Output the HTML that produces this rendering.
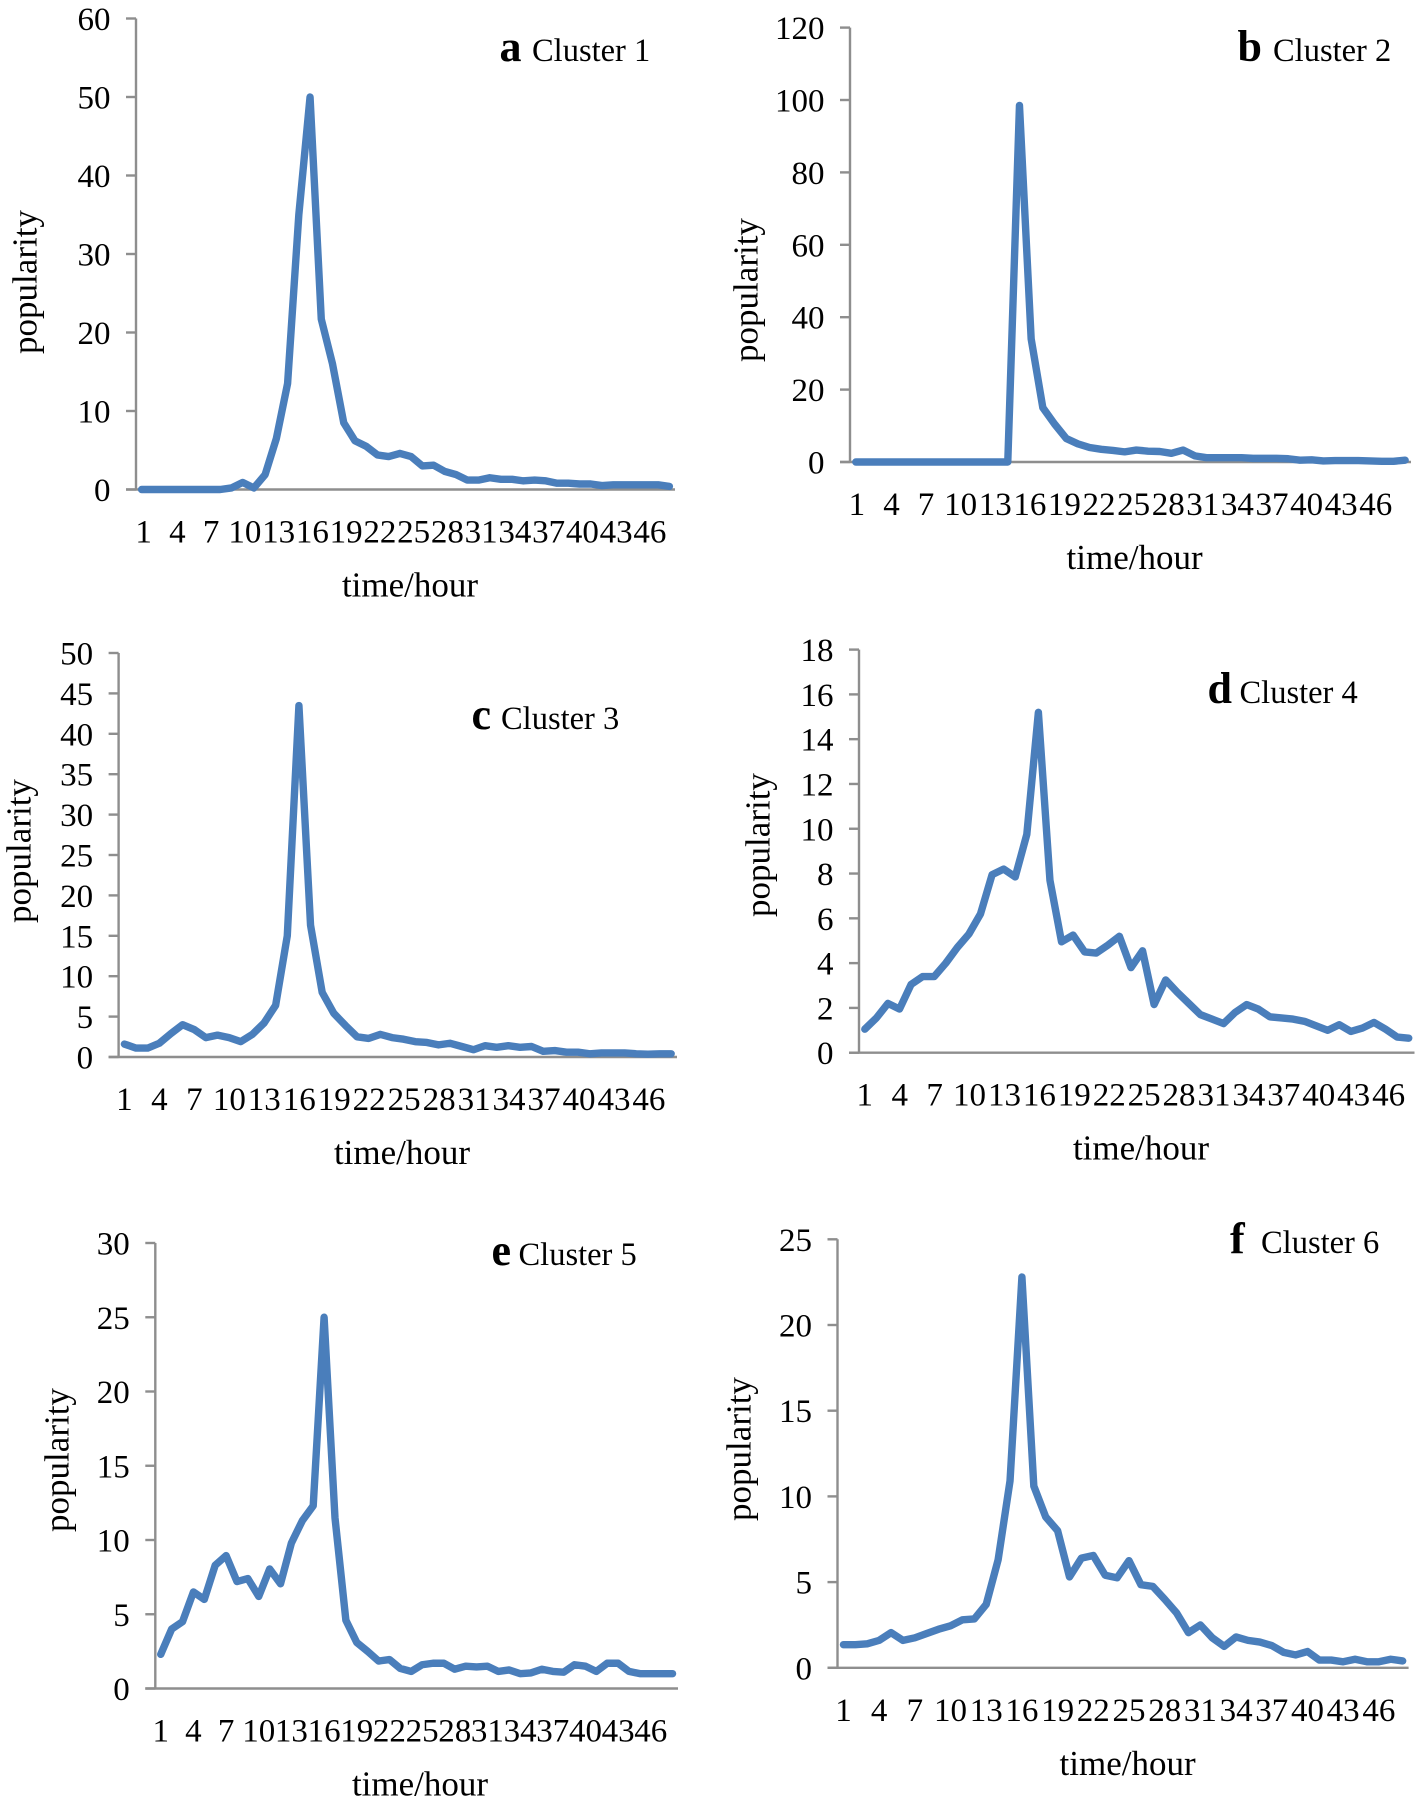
<!DOCTYPE html>
<html lang="en">
<head>
<meta charset="utf-8">
<title>Cluster popularity over time</title>
<style>
html,body{margin:0;padding:0;background:#fff;width:1419px;height:1807px;overflow:hidden}
svg{display:block}
text{font-family:"Liberation Serif","Times New Roman",serif;fill:#000}
</style>
</head>
<body>
<svg id="figure" xmlns="http://www.w3.org/2000/svg" width="1419" height="1807" viewBox="0 0 1419 1807"></svg>
<script>
const hourCategories = [1,2,3,4,5,6,7,8,9,10,11,12,13,14,15,16,17,18,19,20,21,22,23,24,25,26,27,28,29,30,31,32,33,34,35,36,37,38,39,40,41,42,43,44,45,46,47,48];
const xTickLabels = [1,4,7,10,13,16,19,22,25,28,31,34,37,40,43,46];

const yTicksA = [0,10,20,30,40,50,60];
const yTicksB = [0,20,40,60,80,100,120];
const yTicksC = [0,5,10,15,20,25,30,35,40,45,50];
const yTicksD = [0,2,4,6,8,10,12,14,16,18];
const yTicksE = [0,5,10,15,20,25,30];
const yTicksF = [0,5,10,15,20,25];

const seriesA = [0,0,0,0,0,0,0,0,0.2,0.9,0.2,1.9,6.5,13.5,35,50,21.7,16,8.5,6.2,5.5,4.4,4.2,4.6,4.2,3,3.1,2.3,1.9,1.2,1.2,1.5,1.3,1.3,1.1,1.2,1.1,0.8,0.8,0.7,0.7,0.5,0.6,0.6,0.6,0.6,0.6,0.4];
const seriesB = [0,0,0,0,0,0,0,0,0,0,0,0,0,0,98.5,34,15,10.5,6.5,5,4,3.5,3.2,2.8,3.3,3,2.9,2.4,3.3,1.7,1.2,1.2,1.2,1.2,1,1,1,0.9,0.5,0.6,0.3,0.4,0.4,0.4,0.3,0.2,0.2,0.5];
const seriesC = [1.6,1.1,1.1,1.7,2.9,4,3.4,2.4,2.7,2.4,1.9,2.8,4.2,6.4,15,43.5,16.3,8,5.4,3.9,2.5,2.3,2.8,2.4,2.2,1.9,1.8,1.5,1.7,1.3,0.9,1.4,1.2,1.4,1.2,1.3,0.7,0.8,0.6,0.6,0.4,0.5,0.5,0.5,0.4,0.35,0.4,0.4];
const seriesD = [1.05,1.55,2.2,1.95,3.05,3.4,3.4,4,4.7,5.3,6.2,7.95,8.2,7.85,9.75,15.2,7.7,4.95,5.25,4.5,4.45,4.8,5.2,3.8,4.55,2.15,3.25,2.7,2.2,1.7,1.5,1.3,1.8,2.15,1.95,1.6,1.55,1.5,1.4,1.2,1,1.25,0.95,1.1,1.35,1.05,0.7,0.65];
const seriesE = [2.3,4,4.5,6.5,6,8.3,8.95,7.2,7.4,6.2,8.05,7.05,9.8,11.3,12.3,25,11.5,4.6,3.1,2.5,1.85,1.95,1.35,1.15,1.6,1.7,1.7,1.3,1.5,1.45,1.5,1.15,1.25,1,1.05,1.3,1.15,1.1,1.6,1.5,1.15,1.7,1.7,1.15,1,1,1,1];
const seriesF = [1.35,1.35,1.4,1.6,2.05,1.6,1.75,2,2.25,2.45,2.8,2.85,3.7,6.3,10.9,22.8,10.6,8.8,8,5.3,6.4,6.55,5.4,5.25,6.25,4.85,4.75,4,3.2,2.05,2.5,1.75,1.25,1.8,1.6,1.5,1.3,0.9,0.75,0.95,0.45,0.45,0.35,0.5,0.35,0.35,0.5,0.4];

const panels = [
  {id:'a',title:'Cluster 1',values:seriesA,ticks:yTicksA,left:136,right:675,top:18.5,bottom:489.5,labelStart:2,labelEnd:3,xTitle:410,yTitleX:25.5,yTitleY:282,letterX:499.5,nameX:532,nameY:61},
  {id:'b',title:'Cluster 2',values:seriesB,ticks:yTicksB,left:850,right:1411,top:27.6,bottom:462,labelStart:1,labelEnd:-6,xTitle:1134.6,yTitleX:746.5,yTitleY:290,letterX:1237.5,nameX:1273,nameY:61},
  {id:'c',title:'Cluster 3',values:seriesC,ticks:yTicksC,left:118.6,right:677,top:653,bottom:1057,labelStart:0,labelEnd:1,xTitle:402,yTitleX:19.5,yTitleY:851,letterX:471.5,nameX:501,nameY:729},
  {id:'d',title:'Cluster 4',values:seriesD,ticks:yTicksD,left:859,right:1414.5,top:649.6,bottom:1052.7,labelStart:0,labelEnd:3,xTitle:1141,yTitleX:758.5,yTitleY:845,letterX:1207.5,nameX:1239.5,nameY:703},
  {id:'e',title:'Cluster 5',values:seriesE,ticks:yTicksE,left:155.3,right:678,top:1243,bottom:1688.5,labelStart:0,labelEnd:0,xTitle:420,yTitleX:57.5,yTitleY:1460,letterX:491.5,nameX:518.5,nameY:1265},
  {id:'f',title:'Cluster 6',values:seriesF,ticks:yTicksF,left:837.5,right:1408.6,top:1239.3,bottom:1667.8,labelStart:0,labelEnd:0,xTitle:1127.6,yTitleX:739.5,yTitleY:1449,letterX:1230,nameX:1261,nameY:1253}
];

const NS = 'http://www.w3.org/2000/svg';
const figure = document.getElementById('figure');
const AXIS = '#8e8e8e';
const LINE = '#4a7ebb';

function xScale(p, hour){
  const step = (p.right - p.left) / hourCategories.length;
  return p.left + step * (hourCategories.indexOf(hour) + 0.5);
}
function yScale(p, v){
  const max = p.ticks[p.ticks.length - 1];
  return p.bottom - (p.bottom - p.top) * v / max;
}
function labelX(p, hour){
  const t = (hour - 1) / 45;
  return xScale(p, hour) + p.labelStart + (p.labelEnd - p.labelStart) * t;
}
function svgEl(tag, parent, attrs){
  const el = document.createElementNS(NS, tag);
  for (const k in attrs) el.setAttribute(k, attrs[k]);
  parent.appendChild(el);
  return el;
}

panels.forEach(function(p){
  const g = svgEl('g', figure, {});
  
  

  const yAxis = svgEl('line', g, {x1:p.left,x2:p.left,y1:p.top,y2:p.bottom,stroke:AXIS,'stroke-width':2.4});
  
  

  const xAxis = svgEl('line', g, {x1:p.left-10,x2:p.right,y1:p.bottom,y2:p.bottom,stroke:AXIS,'stroke-width':2.4});
  
  

  p.ticks.forEach(function(t){
    const y = yScale(p, t);
    const mark = svgEl('line', g, {x1:p.left-10,x2:p.left,y1:y,y2:y,stroke:AXIS,'stroke-width':2.4});
    
    
    const label = svgEl('text', g, {x:p.left-25.5,y:y+11.5,'text-anchor':'end','font-size':33});
    label.textContent = t;
    
    
  });

  xTickLabels.forEach(function(h){
    const label = svgEl('text', g, {x:labelX(p, h),y:p.bottom+53,'text-anchor':'middle','font-size':33});
    label.textContent = h;
    
    
  });

  const pts = p.values.map(function(v, i){
    return xScale(p, hourCategories[i]).toFixed(2) + ',' + yScale(p, v).toFixed(2);
  }).join(' ');
  const line = svgEl('polyline', g, {points:pts,fill:'none',stroke:LINE,'stroke-width':7.4,'stroke-linejoin':'round','stroke-linecap':'round'});
  
  

  const xTitle = svgEl('text', g, {x:p.xTitle,y:p.bottom+107,'text-anchor':'middle','font-size':35});
  xTitle.textContent = 'time/hour';
  
  

  const yTitle = svgEl('text', g, {x:0,y:0,'text-anchor':'middle','font-size':35,transform:'translate(' + (p.yTitleX + 11) + ',' + p.yTitleY + ') rotate(-90)'});
  yTitle.textContent = 'popularity';
  
  

  const letter = svgEl('text', g, {x:p.letterX,y:p.nameY,'font-size':44,'font-weight':'bold'});
  letter.textContent = p.id;
  
  

  const name = svgEl('text', g, {x:p.nameX,y:p.nameY,'font-size':32.5});
  name.textContent = p.title;
  
  
});
</script>
</body>
</html>
